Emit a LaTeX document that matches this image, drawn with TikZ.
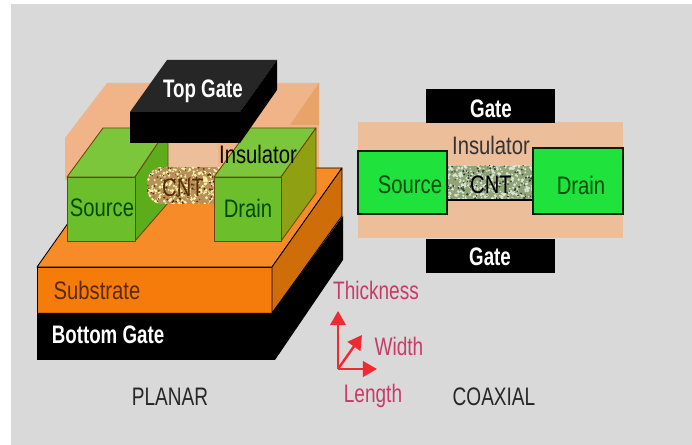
\documentclass[tikz,border=0pt]{standalone}
\usepackage{fontspec}
\setmainfont{Liberation Sans}
\usepackage{xcolor}
\usetikzlibrary{arrows.meta}
\definecolor{nBack}{HTML}{D9D9D9}
\definecolor{nIns}{HTML}{EDBE9A}
\definecolor{nInsTop}{HTML}{F0B488}
\definecolor{nInsSide}{HTML}{E8A468}
\definecolor{nSubTop}{HTML}{F78B28}
\definecolor{nSubFront}{HTML}{F57C0A}
\definecolor{nSubSide}{HTML}{CF6D08}
\definecolor{nGreen}{HTML}{6CBF2A}
\definecolor{nGreenTop}{HTML}{7CC63C}
\definecolor{nGreenSide}{HTML}{5CAC1C}
\definecolor{nOlive}{HTML}{8FA012}
\definecolor{nBright}{HTML}{1FE23C}
\definecolor{nEdge}{HTML}{6B4510}
\definecolor{nText}{HTML}{5A2A04}
\definecolor{nCntA}{HTML}{B8915A}
\definecolor{nCntB}{HTML}{8FA578}
\definecolor{nRed}{HTML}{EE2A33}
\definecolor{nPink}{HTML}{C93A68}
\tikzset{
  lbl/.style={font=\fontsize{18}{20}\selectfont, xscale=.8, inner sep=0pt},
  boldlbl/.style={font=\fontsize{18}{20}\selectfont\bfseries, xscale=.74, inner sep=0pt, text=white},
  face/.style={draw=nEdge, line width=.6pt, line join=round},
  axis/.style={draw=nRed, line width=1.7pt, -{Triangle[length=10pt,width=11pt]}}
}
\newcommand{\cntspeck}[5]{
  \pgfmathsetseed{#1}
  \foreach \i in {1,...,330} {
    \pgfmathsetmacro{\r}{0.7+1.0*rnd}
    \fill[#4] ({rand*45+#2},{rand*20+#3}) circle (\r);
  }
  \foreach \i in {1,...,130} {
    \pgfmathsetmacro{\r}{0.6+0.7*rnd}
    \fill[#5] ({rand*45+#2},{rand*20+#3}) circle (\r);
  }
}
\begin{document}
\begin{tikzpicture}[x=0.025cm,y=-0.025cm]
  \useasboundingbox (0,0) rectangle (692,445);
  \fill[white] (0,0) rectangle (692,445);
  \fill[nBack] (11,4) rectangle (692,445);

  \fill[nInsTop] (65,138) -- (107,83) -- (319,83) -- (319,170) -- (65,180) -- cycle;
  \fill[nInsSide] (319,83) -- (319,125) -- (290,125) -- cycle;
  \fill[face, draw=black, fill=nSubTop] (37,267) -- (107,168) -- (342,168) -- (272,267) -- cycle;
  \fill[face, draw=black, fill=nSubFront] (37,267) rectangle (272,313);
  \fill[face, draw=black, fill=nSubSide] (272,267) -- (342,168) -- (342,216) -- (272,313) -- cycle;
  \fill[black] (37,313) -- (272,313) -- (343,216) -- (343,260) -- (275,360) -- (37,360) -- cycle;
  \fill[nIns] (168,125) rectangle (218,168);

  \fill[face, fill=nGreenTop] (67,177) -- (103,128) -- (168,128) -- (135,177) -- cycle;
  \fill[face, fill=nGreenSide] (135,177) -- (168,128) -- (168,203) -- (135,241) -- cycle;
  \fill[face, fill=nGreen] (67,177) rectangle (135,241);
  \begin{scope}
    \clip[rounded corners=11pt] (147,167) rectangle (260,204);
    \fill[nCntA] (147,167) rectangle (260,204);
    \cntspeck{7}{185}{185}{nCntA!30!yellow!40!white}{nEdge!80!black}
  \end{scope}
  \fill[face, fill=nGreenTop] (214,177) -- (250,128) -- (316,128) -- (281,177) -- cycle;
  \fill[face, fill=nOlive] (281,177) -- (316,128) -- (316,193) -- (281,241) -- cycle;
  \fill[face, fill=nGreen] (214,177) rectangle (281,241);

  \fill[black!85] (130,112) -- (167,60) -- (277,60) -- (240,112) -- cycle;
  \fill[black] (130,112) rectangle (240,143);
  \fill[black] (240,112) -- (277,60) -- (277,90) -- (240,143) -- cycle;

  \fill[nIns] (358,122) rectangle (623,238);
  \foreach \x/\y/\w/\h in {426/89/129/34, 426/239/129/34} \fill[black] (\x,\y) rectangle ++(\w,\h);
  \begin{scope}
    \clip (448,166) rectangle (533,200);
    \fill[nCntB] (448,166) rectangle (533,200);
    \cntspeck{11}{490}{183}{nCntB!30!white}{black!60!nCntB}
  \end{scope}
  \draw[black, line width=.9pt] (448,200) -- (533,200);
  \foreach \x/\y/\w/\h in {358/151/89/63, 533/148/90/66}
    \fill[draw=black!85!nBright, line width=.8pt, fill=nBright] (\x,\y) rectangle ++(\w,\h);

  \foreach \n/\x/\y/\t in {topgate/203/91/Top Gate, bottomgate/108/335/Bottom Gate,
      gatea/491/109/Gate, gateb/490/257/Gate}
    \node[boldlbl] (\n) at (\x,\y) {\t};
  \foreach \n/\x/\y/\c/\t in {insa/258/154/black/Insulator,
      sourcea/102/208/green!30!black/Source, cnta/183/188/nText/CNT, draina/248/208/green!30!black/Drain,
      substrate/97/290/nText/Substrate,
      insb/491/145/black!80/Insulator, sourceb/410/185/green!30!black/Source,
      cntb/491/185/black/CNT, drainb/581/185/green!30!black/Drain}
    \node[lbl, text=\c] (\n) at (\x,\y) {\t};
  \foreach \n/\x/\y/\c/\t in {thick/376/290/nPink/Thickness, wdth/399/346/nPink/Width, lngth/373/396/nPink/Length,
      planar/170/397/black!85/PLANAR, coaxial/494/397/black!85/COAXIAL}
    \node[lbl, xscale=.94, text=\c] (\n) at (\x,\y) {\t};

  \coordinate (orig) at (338,369);
  \coordinate (tipT) at (338,311);
  \coordinate (tipW) at (362,335);
  \coordinate (tipL) at (377,369);
  \foreach \e in {tipT,tipW,tipL} \draw[axis] (orig) -- (\e);
\end{tikzpicture}
\end{document}
